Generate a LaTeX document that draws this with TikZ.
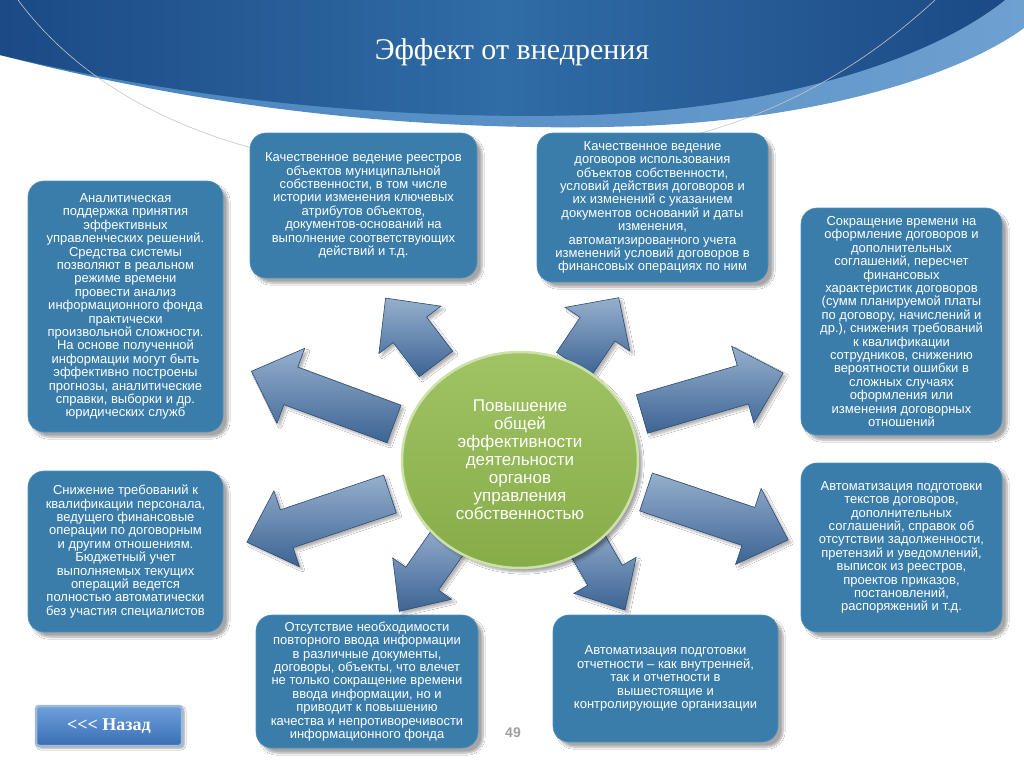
\documentclass[tikz,border=0pt]{standalone}
\usepackage{fontspec}
\setmainfont{Liberation Sans}
\newfontfamily\seriffont{Liberation Serif}
\usetikzlibrary{shadows.blur,calc,shapes.geometric}
\definecolor{boxblue}{RGB}{58,125,170}
\definecolor{boxedge}{RGB}{80,145,190}
\definecolor{hdark}{RGB}{27,74,134}
\definecolor{hmid}{RGB}{48,108,166}
\definecolor{hlight}{RGB}{110,160,208}
\definecolor{hlight2}{RGB}{70,130,190}
\definecolor{arrlight}{RGB}{150,175,205}
\definecolor{arrdark}{RGB}{60,100,148}
\definecolor{arredge}{RGB}{45,75,115}
\definecolor{hubgreen}{RGB}{134,172,72}
\definecolor{hubgreenL}{RGB}{160,195,100}
\definecolor{hubedge}{RGB}{205,225,170}
\definecolor{btntop}{RGB}{110,160,220}
\definecolor{btnbot}{RGB}{58,110,180}
\definecolor{btnedge}{RGB}{160,185,215}
\tikzset{
  infobox/.style={rectangle, rounded corners=16pt, fill=boxblue, draw=boxedge, line width=0.6pt,
    text=white, align=center, font=\fontsize{13}{13.4}\selectfont, inner sep=0pt,
    blur shadow={shadow xshift=5pt, shadow yshift=-5pt, shadow blur steps=8, shadow opacity=35}},
  arrowshape/.style={top color=arrlight, bottom color=arrdark, draw=arredge, line width=0.6pt,
    blur shadow={shadow xshift=3pt, shadow yshift=-3pt, shadow blur steps=6, shadow opacity=30}},
  hubstyle/.style={ellipse, minimum width=236pt, minimum height=216pt, inner sep=0pt, top color=hubgreenL, bottom color=hubgreen,
    draw=hubedge, line width=2.5pt, text=white, align=center, font=\fontsize{17}{18}\selectfont,
    blur shadow={shadow xshift=4pt, shadow yshift=-4pt, shadow blur steps=8, shadow opacity=35}},
  decoline/.style={draw=gray!45, line width=0.6pt}
}
% name, tail x, tail y, visual angle, length, head length, head half width, shaft half width
\newcommand\blockarrow[8]{%
  \begin{scope}[shift={(#2,#3)}, rotate=#4]
    \path[arrowshape] (0,#8) -- ({#5-#6},#8) -- ({#5-#6},#7) -- (#5,0) -- ({#5-#6},-#7) -- ({#5-#6},-#8) -- (0,-#8) -- cycle;
    \coordinate (#1) at (#5,0);
  \end{scope}}
\begin{document}
\begin{tikzpicture}[x=1pt,y=-1pt]
\useasboundingbox (0,0) rectangle (1024,768);
\fill[white] (0,0) rectangle (1024,768);
% header
\path[left color=hlight2, right color=hlight] (0,55) .. controls (220,112) and (440,133) .. (640,126) .. controls (820,119) and (960,75) .. (1024,28) -- (1024,0) -- (0,0) -- cycle;
\path[left color=hdark, right color=hdark, middle color=hmid] (0,55) .. controls (210,105) and (420,120) .. (590,115) .. controls (780,108) and (930,60) .. (1005,0) -- (0,0) -- cycle;
\draw[decoline] (18,0) .. controls (70,70) and (150,120) .. (252,148);
\draw[decoline] (935,0) .. controls (870,60) and (790,110) .. (690,136);
\node[font=\seriffont\fontsize{30}{30}\selectfont, text=white] (title) at (512,52) {Эффект от внедрения};
% boxes
\node[infobox, minimum width=227pt, minimum height=145pt] (b1) at (363.5,205.5) {Качественное ведение реестров\\объектов муниципальной\\собственности, в том числе\\истории изменения ключевых\\атрибутов объектов,\\документов-оснований на\\выполнение соответствующих\\действий и т.д.};
\node[infobox, minimum width=231pt, minimum height=149pt] (b2) at (652.5,207.5) {Качественное ведение\\договоров использования\\объектов собственности,\\условий действия договоров и\\их изменений с указанием\\документов оснований и даты\\изменения,\\автоматизированного учета\\изменений условий договоров в\\финансовых операциях по ним};
\node[infobox, minimum width=195pt, minimum height=251pt] (b3) at (125.5,306.5) {Аналитическая\\поддержка принятия\\эффективных\\управленческих решений.\\Средства системы\\позволяют в реальном\\режиме времени\\провести анализ\\информационного фонда\\практически\\произвольной сложности.\\На основе полученной\\информации могут быть\\эффективно построены\\прогнозы, аналитические\\справки, выборки и др.\\юридических служб};
\node[infobox, minimum width=201pt, minimum height=227pt] (b4) at (901.5,321.5) {Сокращение времени на\\оформление договоров и\\дополнительных\\соглашений, пересчет\\финансовых\\характеристик договоров\\(сумм планируемой платы\\по договору, начислений и\\др.), снижения требований\\к квалификации\\сотрудников, снижению\\вероятности ошибки в\\сложных случаях\\оформления или\\изменения договорных\\отношений};
\node[infobox, minimum width=195pt, minimum height=161pt] (b5) at (125.5,551.5) {Снижение требований к\\квалификации персонала,\\ведущего финансовые\\операции по договорным\\и другим отношениям.\\Бюджетный учет\\выполняемых текущих\\операций ведется\\полностью автоматически\\без участия специалистов};
\node[infobox, minimum width=201pt, minimum height=169pt] (b6) at (901.5,547.5) {Автоматизация подготовки\\текстов договоров,\\дополнительных\\соглашений, справок об\\отсутствии задолженности,\\претензий и уведомлений,\\выписок из реестров,\\проектов приказов,\\постановлений,\\распоряжений и т.д.};
\node[infobox, minimum width=222pt, minimum height=133pt] (b7) at (367,681.5) {Отсутствие необходимости\\повторного ввода информации\\в различные документы,\\договоры, объекты, что влечет\\не только сокращение времени\\ввода информации, но и\\приводит к повышению\\качества и непротиворечивости\\информационного фонда};
\node[infobox, minimum width=225pt, minimum height=127pt] (b8) at (665.5,678.5) {Автоматизация подготовки\\отчетности – как внутренней,\\так и отчетности в\\вышестоящие и\\контролирующие организации};
% arrows
\blockarrow{aR}{642}{414}{16.2}{147}{42}{40}{20}
\blockarrow{aL}{394}{424}{159.7}{152}{42}{40}{20}
\blockarrow{aLL}{390}{494}{198.6}{151}{42}{40}{20}
\blockarrow{aLR}{646}{492}{-18.6}{150}{42}{40}{20}
\blockarrow{aUL}{436}{364}{127.4}{83}{40}{39}{21}
\blockarrow{aUR}{574}{364}{56}{80}{38}{39}{21}
\blockarrow{aBL}{452}{536}{235}{92}{40}{36}{20}
\blockarrow{aBR}{580}{532}{-60}{90}{40}{36}{20}
% hub
\node[hubstyle] (hub) at (520,460) {Повышение\\общей\\эффективности\\деятельности\\органов\\управления\\собственностью};
% back button
\node[rectangle, rounded corners=3pt, minimum width=146pt, minimum height=40pt, top color=btntop, bottom color=btnbot,
  draw=btnedge, line width=2.5pt, text=white, font=\seriffont\bfseries\fontsize{18}{18}\selectfont,
  blur shadow={shadow xshift=2pt, shadow yshift=-2pt, shadow blur steps=5, shadow opacity=40}] (back) at (109,726) {<\kern0pt<\kern0pt< Назад};
\node[font=\bfseries\fontsize{14}{14}\selectfont, text=gray!75] (pg) at (513,733) {49};
\end{tikzpicture}
\end{document}
